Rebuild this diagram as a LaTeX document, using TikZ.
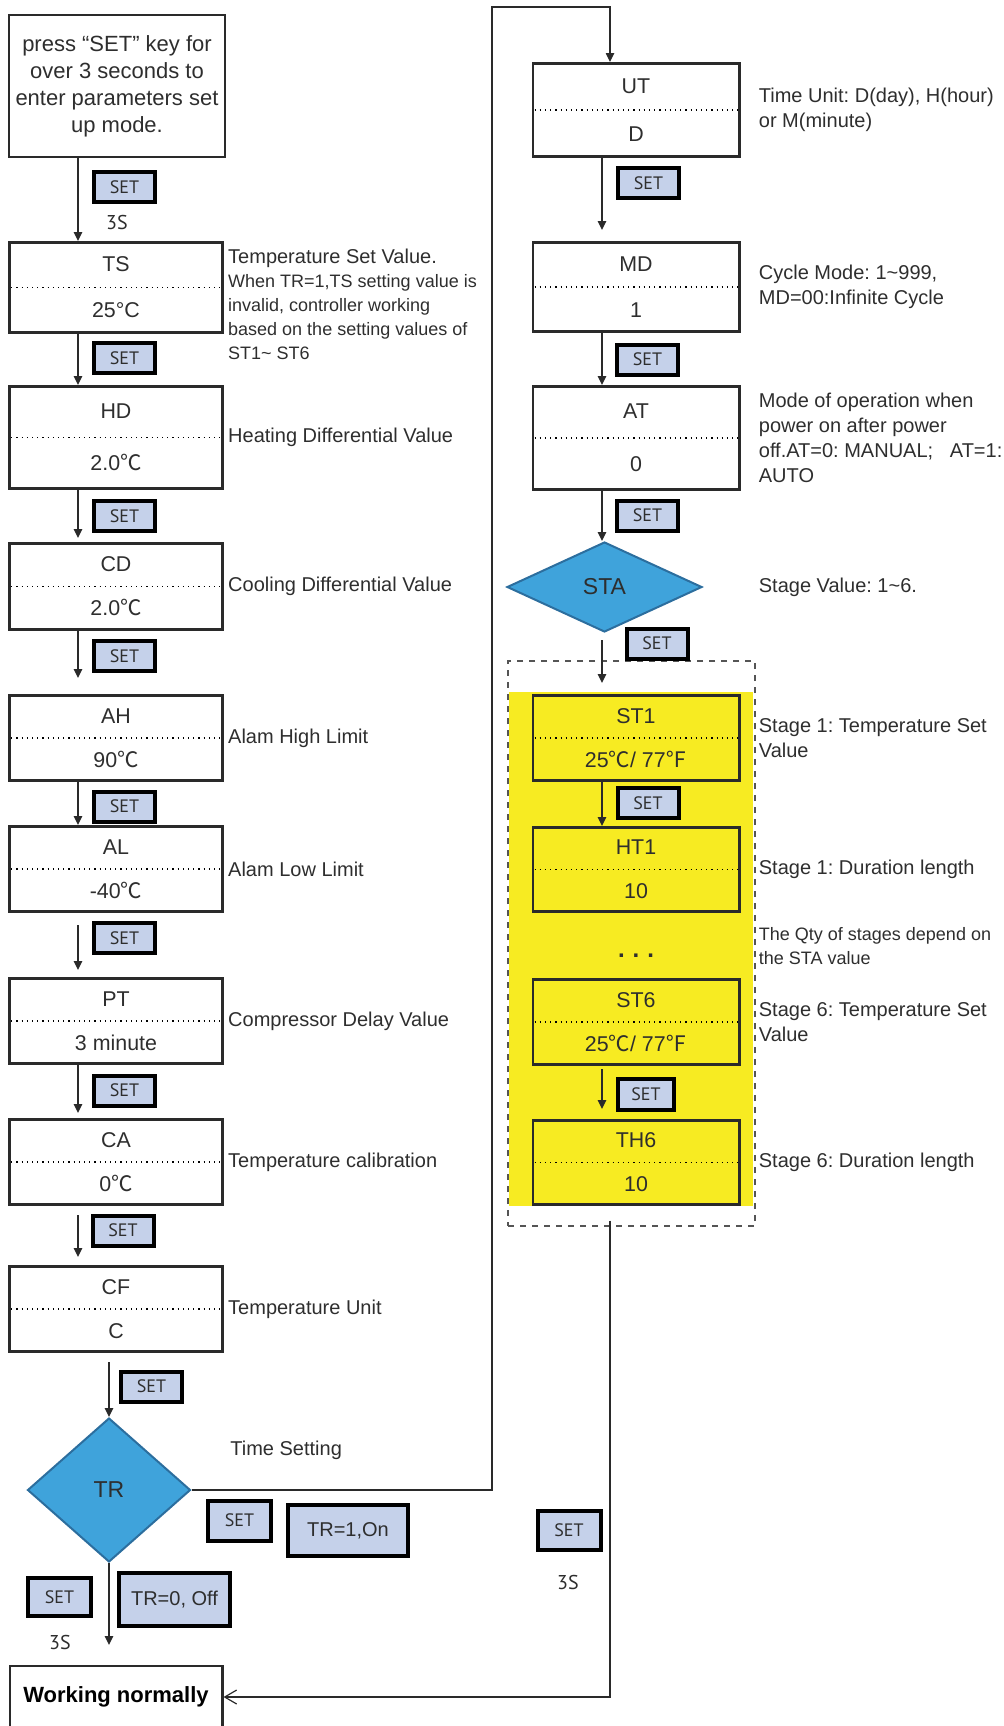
\documentclass[tikz,border=0pt]{standalone}
\usepackage{fontspec}
\setmainfont{Liberation Sans}
\newfontfamily\keyfont{PT Sans}
\newfontfamily\cjkfont{Noto Sans CJK SC}
\usepackage{xcolor}
\usepackage{tikz}
\usetikzlibrary{calc,arrows.meta,positioning,shapes.geometric}
\definecolor{keyblue}{HTML}{C5D1EA}
\definecolor{diablue}{HTML}{3FA3DB}
\definecolor{diaedge}{HTML}{2C6E9E}
\definecolor{stgyel}{HTML}{F7EB22}
\definecolor{txtc}{HTML}{2E2E2E}
\definecolor{linec}{HTML}{2A2A2A}
\newcommand{\dC}{{\cjkfont ℃}}
\newcommand{\dF}{{\cjkfont ℉}}
\newcommand{\tld}{\textasciitilde}
\frenchspacing
\tikzset{
  ar/.style={-{Triangle[length=4.5pt,width=4.2pt]},line width=0.7pt,draw=linec},
  arb/.style={-{Straight Barb[length=6pt,width=7pt]},line width=0.6pt,draw=linec},
  pbx/.style={draw=linec,line width=1.3pt,minimum width=106.5pt,inner sep=0pt},
  rbx/.style={pbx,minimum width=103.2pt},
  dv/.style={dotted,line width=0.6pt,shorten <=1.5pt,shorten >=1.5pt},
  ptxt/.style={font=\fontsize{10.7}{12}\selectfont,text=txtc,inner sep=0pt,text height=0.72em,text depth=0pt},
  startbox/.style={draw=linec,line width=1pt,minimum width=106pt,minimum height=71pt,align=center,font=\fontsize{11}{13.5}\selectfont,text=txtc},
  wkbox/.style={draw=linec,line width=1.2pt,minimum width=106.3pt,minimum height=30.8pt,font=\fontsize{11}{13}\selectfont\bfseries},
  key/.style={draw=black,line width=2pt,fill=keyblue,minimum width=30.5pt,minimum height=15pt,inner sep=0pt,font=\keyfont\fontsize{9}{10}\selectfont,text=txtc},
  bigkey/.style={key,minimum width=31.5pt,minimum height=20pt},
  optbox/.style={draw=black,line width=2pt,fill=keyblue,inner sep=0pt,font=\fontsize{10}{12}\selectfont,text=txtc},
  three/.style={font=\keyfont\fontsize{10}{11}\selectfont,text=txtc},
  note/.style={anchor=west,align=left,inner sep=2pt,font=\fontsize{10}{12.5}\selectfont,text=txtc},
  dia/.style={diamond,draw=diaedge,fill=diablue,line width=1pt,inner sep=0pt,font=\fontsize{11.5}{12}\selectfont,text=txtc},
  stgframe/.style={draw=linec!80,dashed,line width=0.6pt,minimum width=123.5pt,minimum height=282.5pt}
}
% parameter box: [style] name, centre, height, code, value
\newcommand{\prmbox}[6][]{%
  \node[pbx,minimum height=#4,#1] (#2) at (#3) {};
  \draw[dv] (#2.west) -- (#2.east);
  \node[ptxt] (#2-t) at ($(#2.center)!0.5!(#2.north)$) {#5};
  \node[ptxt] (#2-b) at ($(#2.center)!0.5!(#2.south)$) {#6};
}

\begin{document}
\begin{tikzpicture}[x=0.5pt,y=-0.5pt]
\path[use as bounding box,clip] (0,0) rectangle (1003,1726);
\coordinate (lx) at (78,0);
\coordinate (rx) at (602,0);
\coordinate (ux) at (610,0);
\coordinate (lp) at (492,7);

% left column
\node[startbox] (start) at (117,86) {press “SET” key for\\over 3 seconds to\\enter parameters set\\up mode.};
\prmbox{ts}{116,287.5}{45.2pt}{TS}{25°C}
\prmbox{hd}{116,437.5}{51.2pt}{HD}{2.0\dC}
\prmbox{cd}{116,586.5}{43.2pt}{CD}{2.0\dC}
\prmbox{ah}{116,738}{42.7pt}{AH}{90\dC}
\prmbox{al}{116,869}{42.7pt}{AL}{-40\dC}
\prmbox{pt}{116,1021}{42.7pt}{PT}{3 minute}
\prmbox{ca}{116,1162}{42.7pt}{CA}{0\dC}
\prmbox{cf}{116,1309}{42.7pt}{CF}{C}
\node[dia,minimum width=81.5pt,minimum height=72pt] (tr) at (109,1490) {TR};
\node[wkbox] (wk) at (116,1697) {Working normally};

% right column
\prmbox[rbx]{ut}{636,110}{46.7pt}{UT}{D}
\prmbox[rbx]{md}{636,287}{44.7pt}{MD}{1}
\prmbox[rbx]{at}{636,438}{51.7pt}{AT}{0}
\node[dia,minimum width=97.5pt,minimum height=45pt] (sta) at (604.5,587) {STA};
\fill[stgyel] (509,692) rectangle (753,1206);
\node[stgframe] (stg) at (631.5,943.5) {};
\prmbox[rbx,fill=stgyel]{st1}{636,738}{42.7pt}{ST1}{25\dC/ 77\dF}
\prmbox[rbx,fill=stgyel]{ht1}{636,869.5}{42.2pt}{HT1}{10}
\prmbox[rbx,fill=stgyel]{st6}{636,1022}{42.7pt}{ST6}{25\dC/ 77\dF}
\prmbox[rbx,fill=stgyel]{th6}{636,1162.5}{42.2pt}{TH6}{10}
\node[font=\fontsize{12}{12}\selectfont\bfseries,text=txtc,inner sep=0pt] (dots) at ([yshift=-5pt]$(ht1.south)!0.5!(st6.north)$) {.\,\,.\,\,.};

% connectors
\draw[ar] (start.south -| lx) -- (ts.north -| lx);
\draw[ar] (ts.south -| lx) -- (hd.north -| lx);
\draw[ar,shorten >=2pt] (hd.south -| lx) -- (cd.north -| lx);
\draw[ar,shorten >=8pt] (cd.south -| lx) -- (ah.north -| lx);
\draw[ar] (ah.south -| lx) -- (al.north -| lx);
\draw[ar,shorten <=6pt,shorten >=3.5pt] (al.south -| lx) -- (pt.north -| lx);
\draw[ar,shorten >=2.5pt] (pt.south -| lx) -- (ca.north -| lx);
\draw[ar,shorten <=4.5pt,shorten >=4pt] (ca.south -| lx) -- (cf.north -| lx);
\draw[ar,shorten <=4.5pt] (cf.south -| tr.north) -- (tr.north);
\draw[ar,shorten >=10pt] (tr.south) -- (wk.north -| tr.south);
\draw[ar,line width=0.6pt] (tr.east) -| (lp) -| (ut.north -| ux);
\draw[ar,shorten >=5.5pt] (ut.south -| rx) -- (md.north -| rx);
\draw[ar] (md.south -| rx) -- (at.north -| rx);
\draw[ar] (at.south -| rx) -- (sta.north -| rx);
\draw[ar,shorten <=3.5pt,shorten >=5.5pt] (sta.south -| rx) -- (st1.north -| rx);
\draw[ar] (st1.south -| rx) -- (ht1.north -| rx);
\draw[ar,shorten <=1.5pt,shorten >=5pt] (st6.south -| rx) -- (th6.north -| rx);
\draw[arb] ([yshift=3pt]stg.south -| ux) |- (wk.east);

% SET keys
\node[key] (k1) at (124.5,187) {SET};
\node[three] (k1s) at (117,222) {3S};
\node[key] (k2) at (124.5,358) {SET};
\node[key] (k3) at (124.5,516) {SET};
\node[key] (k4) at (124.5,656) {SET};
\node[key] (k5) at (124.5,806.5) {SET};
\node[key] (k6) at (124.5,938) {SET};
\node[key] (k7) at (124.5,1090.5) {SET};
\node[key] (k8) at (123,1230.5) {SET};
\node[key] (k9) at (151.5,1386.5) {SET};
\node[bigkey] (k10) at (239.5,1520.5) {SET};
\node[optbox,minimum width=60pt,minimum height=25.5pt] (on) at (348,1530.5) {TR=1,On};
\node[bigkey,minimum height=19pt] (k11) at (59.5,1597) {SET};
\node[three] (k11s) at (60,1642) {3S};
\node[optbox,minimum width=55.5pt,minimum height=26.5pt] (off) at (174.5,1599.5) {TR=0, Off};
\node[key] (k12) at (648.5,183) {SET};
\node[key] (k13) at (647.5,359.5) {SET};
\node[key] (k14) at (647.5,515.5) {SET};
\node[key] (k15) at (657,643.5) {SET};
\node[key] (k16) at (648,803) {SET};
\node[key,minimum width=28pt,minimum height=15.5pt] (k17) at (646,1094.5) {SET};
\node[bigkey,minimum height=19.5pt] (k18) at (569,1530.5) {SET};
\node[three] (k18s) at (568,1582) {3S};

% notes, left
\node[note,font=\fontsize{9}{12}\selectfont] (ts-n) at ([yshift=-8.5pt]ts.east) {{\fontsize{10}{12}\selectfont Temperature Set Value.}\\When TR=1,TS setting value is\\invalid, controller working\\based on the setting values of\\ST1\tld{} ST6};
\node[note] (hd-n) at (hd.east) {Heating Differential Value};
\node[note] (cd-n) at (cd.east) {Cooling Differential Value};
\node[note] (ah-n) at (ah.east) {Alam High Limit};
\node[note] (al-n) at (al.east) {Alam Low Limit};
\node[note] (pt-n) at (pt.east) {Compressor Delay Value};
\node[note] (ca-n) at (ca.east) {Temperature calibration};
\node[note] (cf-n) at (cf.east) {Temperature Unit};
\node[note] (tset) at (226,1450) {Time Setting};

% notes, right
\node[note] (ut-n) at ([xshift=7pt]ut.east) {Time Unit: D(day), H(hour)\\or M(minute)};
\node[note] (md-n) at ([xshift=7pt]md.east) {Cycle Mode: 1\tld999,\\MD=00:Infinite Cycle};
\node[note] (at-n) at ([xshift=7pt]at.east) {Mode of operation when\\power on after power\\off.AT=0: MANUAL;\ \ \ AT=1:\\AUTO};
\node[note] (sta-n) at (sta.east -| ut-n.west) {Stage Value: 1\tld6.};
\node[note] (st1-n) at ([xshift=7pt]st1.east) {Stage 1: Temperature Set\\Value};
\node[note] (ht1-n) at ([xshift=7pt]ht1.east) {Stage 1: Duration length};
\node[note,font=\fontsize{9}{12}\selectfont] (qty-n) at ([xshift=7pt]$(ht1.east)!0.5!(st6.east)$) {The Qty of stages depend on\\the STA value};
\node[note] (st6-n) at ([xshift=7pt]st6.east) {Stage 6: Temperature Set\\Value};
\node[note] (th6-n) at ([xshift=7pt]th6.east) {Stage 6: Duration length};
\end{tikzpicture}
\end{document}
